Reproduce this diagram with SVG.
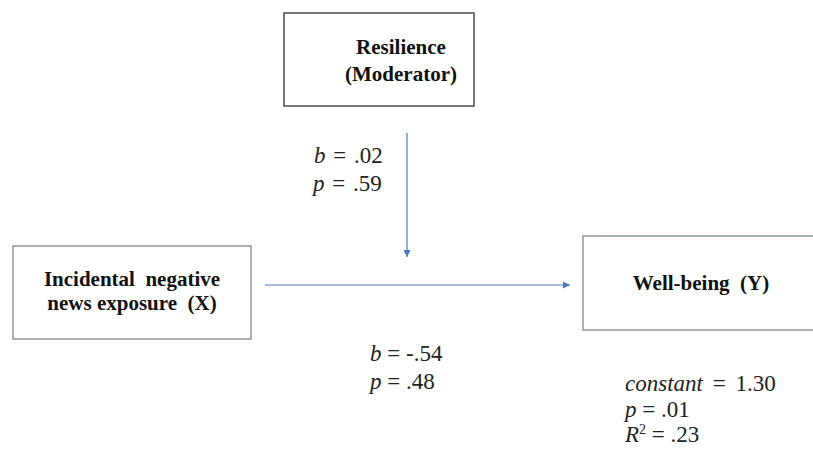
<svg xmlns="http://www.w3.org/2000/svg" width="813" height="452" viewBox="0 0 813 452">
<style>
.box{fill:#fff;stroke:#7f8790;stroke-width:1.3}
.lbl{font-family:'Liberation Serif','DejaVu Serif',serif;font-weight:bold;font-size:21px;fill:#111;text-anchor:middle;white-space:pre}
.st{font-family:'Liberation Serif','DejaVu Serif',serif;font-size:23px;fill:#222;white-space:pre}
.con{stroke:#4f78b8;stroke-width:1.2;fill:none}
</style>
<defs>
<marker id="ah" viewBox="0 0 10 10" refX="10" refY="5" markerWidth="7" markerHeight="7" markerUnits="userSpaceOnUse" orient="auto">
<path d="M0,0 L10,5 L0,10 z" fill="#4f78b8"/>
</marker>
</defs>
<rect width="813" height="452" fill="#fff"/>
<g id="resilience">
<rect class="box" x="284" y="13" width="190" height="93" style="stroke:#555;stroke-width:1.6"/>
<text class="lbl" font-family="Liberation Serif, serif" x="401" y="54" font-size="20">Resilience</text>
<text class="lbl" font-family="Liberation Serif, serif" x="401" y="81" font-size="20">(Moderator)</text>
</g>
<g id="exposure">
<rect class="box" x="13" y="246" width="238" height="93"/>
<text class="lbl" font-family="Liberation Serif, serif" x="132" y="286" font-size="21.5">Incidental  negative</text>
<text class="lbl" font-family="Liberation Serif, serif" x="132" y="310" font-size="21.5">news exposure  (X)</text>
</g>
<g id="wellbeing">
<rect class="box" x="583" y="236" width="231" height="94"/>
<text class="lbl" font-family="Liberation Serif, serif" x="701" y="290">Well-being  (Y)</text>
</g>
<g id="connectors">
<line class="con" x1="265" y1="285" x2="570" y2="285" marker-end="url(#ah)"/>
<line class="con" x1="407" y1="133" x2="407" y2="257" marker-end="url(#ah)"/>
</g>
<g id="labels" font-family="Liberation Serif, serif">
<text class="st" x="314" y="163" font-size="24" word-spacing="2"><tspan font-style="italic">b</tspan> = .02</text>
<text class="st" x="313" y="191" font-size="24" word-spacing="2"><tspan font-style="italic">p</tspan> = .59</text>
<text class="st" x="370" y="361"><tspan font-style="italic">b</tspan> = -.54</text>
<text class="st" x="370" y="389"><tspan font-style="italic">p</tspan> = .48</text>
<text class="st" x="625" y="391" word-spacing="4"><tspan font-style="italic">constant</tspan> = 1.30</text>
<text class="st" x="625" y="417"><tspan font-style="italic">p</tspan> = .01</text>
<text class="st" x="625" y="442"><tspan font-style="italic">R</tspan><tspan font-size="14" dy="-8">2</tspan><tspan dy="8"> = .23</tspan></text>
</g>
</svg>
